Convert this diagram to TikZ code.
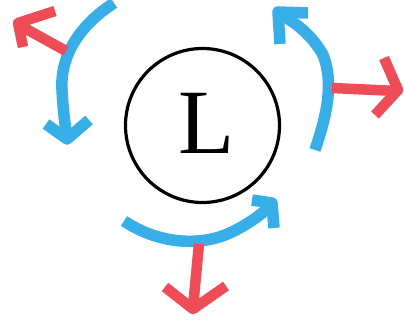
\documentclass[tikz,border=0pt]{standalone}
\usepackage{fontspec}
\setmainfont{Liberation Serif}
\definecolor{skyb}{RGB}{56,174,232}
\definecolor{redr}{RGB}{238,76,86}
\begin{document}
\begin{tikzpicture}[x=1pt,y=-1pt,
  bluearr/.style={draw=skyb,line width=11.5pt,line cap=butt,line join=round},
  redarr/.style={draw=redr,line width=10.5pt,line cap=butt,line join=round}]
\useasboundingbox[fill=white] (0,0) rectangle (404,321);
\node[draw,circle,line width=3.2pt,minimum size=154pt,inner sep=0pt] (c) at (202.5,125.5) {};
\node[font=\fontsize{92}{92}\selectfont,inner sep=0pt,anchor=base] (L) at (207,153) {L};
% top-left pair
\coordinate (b1s) at (114,3);
\coordinate (b1e) at (67,137);
\draw[bluearr] (b1s) .. controls (80,25) and (60,55) .. (62,90) .. controls (63,110) and (65,125) .. (b1e);
\draw[bluearr] (46,124) -- (67,139) -- (89,120);
\coordinate (r1s) at (66,51);
\coordinate (r1e) at (19,25);
\draw[redarr] (r1s) -- (r1e);
\draw[redarr] (55,11) -- (18,23) -- (23,47);
% top-right pair
\coordinate (b2s) at (315,150);
\coordinate (b2e) at (278,13);
\draw[bluearr] (b2s) .. controls (325,120) and (335,85) .. (323,55) .. controls (312,35) and (295,22) .. (b2e);
\draw[bluearr] (308,13) -- (278,12) -- (280,44);
\coordinate (r2s) at (332,88);
\coordinate (r2e) at (397,91);
\draw[redarr] (r2s) -- (r2e);
\draw[redarr] (384,58) -- (398,90) -- (375,115);
% bottom pair
\coordinate (b3s) at (124,221);
\coordinate (b3e) at (271,206);
\draw[bluearr] (b3s) .. controls (160,245) and (200,245) .. (225,235) .. controls (245,227) and (260,215) .. (b3e);
\draw[bluearr] (252,200) -- (272,203) -- (274,228);
\coordinate (r3s) at (199,244);
\coordinate (r3e) at (193,307);
\draw[redarr] (r3s) -- (r3e);
\draw[redarr] (165,287) -- (193,309) -- (226,286);
\end{tikzpicture}
\end{document}
